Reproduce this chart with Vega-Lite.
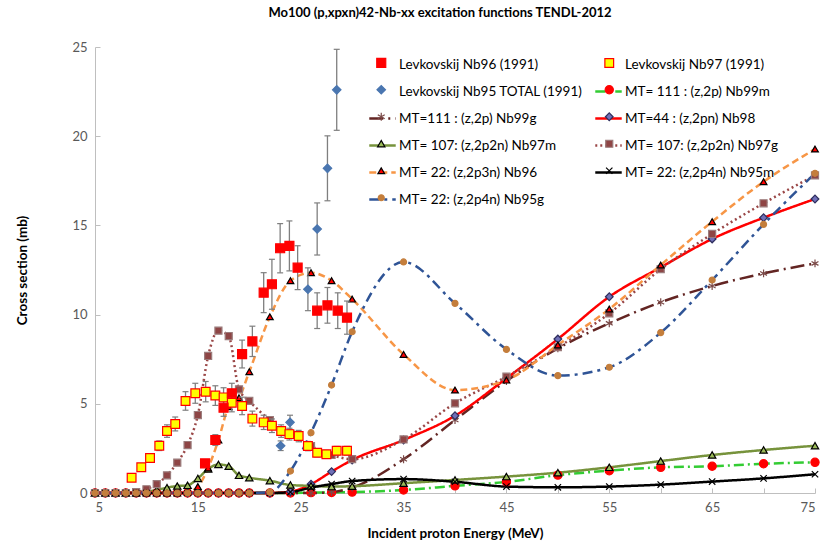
{
  "$schema": "https://vega.github.io/schema/vega-lite/v6.json",
  "width": 720,
  "height": 446,
  "autosize": {"type": "none"},
  "padding": {"left": 95, "top": 47, "right": 7, "bottom": 52},
  "background": "white",
  "title": {"text": "Mo100 (p,xpxn)42-Nb-xx  excitation functions TENDL-2012", "font": "Lato", "fontSize": 13, "fontWeight": "bold", "color": "#000000", "frame": "group", "anchor": "middle", "dx": -15, "offset": 21},
  "datasets": {
    "names": [
      {"k": "n96", "name": "Levkovskij Nb96 (1991)", "mk": "Levkovskij Nb96 (1991)\u200b"},
      {"k": "n97", "name": "Levkovskij Nb97 (1991)", "mk": "Levkovskij Nb97 (1991)\u200b"},
      {"k": "n95", "name": "Levkovskij Nb95 TOTAL (1991)", "mk": "Levkovskij Nb95 TOTAL (1991)\u200b"},
      {"k": "Nb99m", "name": "MT= 111 : (z,2p) Nb99m", "mk": "MT= 111 : (z,2p) Nb99m\u200b"},
      {"k": "Nb99g", "name": "MT=111 : (z,2p) Nb99g", "mk": "MT=111 : (z,2p) Nb99g\u200b"},
      {"k": "Nb98", "name": "MT=44 : (z,2pn) Nb98", "mk": "MT=44 : (z,2pn) Nb98\u200b"},
      {"k": "Nb97m", "name": "MT= 107: (z,2p2n) Nb97m", "mk": "MT= 107: (z,2p2n) Nb97m\u200b"},
      {"k": "Nb97g", "name": "MT= 107: (z,2p2n) Nb97g", "mk": "MT= 107: (z,2p2n) Nb97g\u200b"},
      {"k": "Nb96", "name": "MT= 22: (z,2p3n) Nb96", "mk": "MT= 22: (z,2p3n) Nb96\u200b"},
      {"k": "Nb95m", "name": "MT= 22: (z,2p4n) Nb95m", "mk": "MT= 22: (z,2p4n) Nb95m\u200b"},
      {"k": "Nb95g", "name": "MT= 22: (z,2p4n) Nb95g", "mk": "MT= 22: (z,2p4n) Nb95g\u200b"}
    ],
    "tendl": [
      {"e": 5, "Nb99m": 0, "Nb99g": 0, "Nb98": 0, "Nb97m": 0, "Nb97g": 0, "Nb96": 0, "Nb95m": 0, "Nb95g": 0},
      {"e": 6, "Nb99m": 0, "Nb99g": 0, "Nb98": 0, "Nb97m": 0, "Nb97g": 0, "Nb96": 0, "Nb95m": 0, "Nb95g": 0},
      {"e": 7, "Nb99m": 0, "Nb99g": 0, "Nb98": 0, "Nb97m": 0, "Nb97g": 0, "Nb96": 0, "Nb95m": 0, "Nb95g": 0},
      {"e": 8, "Nb99m": 0, "Nb99g": 0, "Nb98": 0, "Nb97m": 0, "Nb97g": 0, "Nb96": 0, "Nb95m": 0, "Nb95g": 0},
      {"e": 9, "Nb99m": 0, "Nb99g": 0, "Nb98": 0, "Nb97m": 0.02, "Nb97g": 0.05, "Nb96": 0, "Nb95m": 0, "Nb95g": 0},
      {"e": 10, "Nb99m": 0, "Nb99g": 0, "Nb98": 0, "Nb97m": 0.08, "Nb97g": 0.21, "Nb96": 0, "Nb95m": 0, "Nb95g": 0},
      {"e": 11, "Nb99m": 0, "Nb99g": 0, "Nb98": 0, "Nb97m": 0.17, "Nb97g": 0.5, "Nb96": 0, "Nb95m": 0, "Nb95g": 0},
      {"e": 12, "Nb99m": 0, "Nb99g": 0, "Nb98": 0, "Nb97m": 0.3, "Nb97g": 0.99, "Nb96": 0, "Nb95m": 0, "Nb95g": 0},
      {"e": 13, "Nb99m": 0, "Nb99g": 0, "Nb98": 0, "Nb97m": 0.39, "Nb97g": 1.7, "Nb96": 0, "Nb95m": 0, "Nb95g": 0},
      {"e": 14, "Nb99m": 0, "Nb99g": 0, "Nb98": 0, "Nb97m": 0.43, "Nb97g": 2.69, "Nb96": 0.05, "Nb95m": 0, "Nb95g": 0},
      {"e": 15, "Nb99m": 0, "Nb99g": 0, "Nb98": 0, "Nb97m": 0.82, "Nb97g": 4.37, "Nb96": 0.36, "Nb95m": 0, "Nb95g": 0},
      {"e": 16, "Nb99m": 0, "Nb99g": 0, "Nb98": 0, "Nb97m": 1.35, "Nb97g": 7.68, "Nb96": 1.4, "Nb95m": 0, "Nb95g": 0},
      {"e": 17, "Nb99m": 0, "Nb99g": 0, "Nb98": 0, "Nb97m": 1.6, "Nb97g": 9.1, "Nb96": 2.97, "Nb95m": 0, "Nb95g": 0},
      {"e": 18, "Nb99m": 0, "Nb99g": 0, "Nb98": 0, "Nb97m": 1.5, "Nb97g": 8.8, "Nb96": 4.84, "Nb95m": 0, "Nb95g": 0},
      {"e": 19, "Nb99m": 0, "Nb99g": 0, "Nb98": 0, "Nb97m": 0.99, "Nb97g": 5.81, "Nb96": 5.34, "Nb95m": 0, "Nb95g": 0},
      {"e": 20, "Nb99m": 0, "Nb99g": 0, "Nb98": 0, "Nb97m": 0.86, "Nb97g": 5.16, "Nb96": 6.8, "Nb95m": 0, "Nb95g": 0},
      {"e": 22, "Nb99m": 0, "Nb99g": 0, "Nb98": 0, "Nb97m": 0.69, "Nb97g": 4.09, "Nb96": 9.88, "Nb95m": 0, "Nb95g": 0.05},
      {"e": 24, "Nb99m": 0, "Nb99g": 0, "Nb98": 0.08, "Nb97m": 0.45, "Nb97g": 3.29, "Nb96": 11.9, "Nb95m": 0.05, "Nb95g": 1.23},
      {"e": 26, "Nb99m": 0.02, "Nb99g": 0, "Nb98": 0.5, "Nb97m": 0.4, "Nb97g": 2.63, "Nb96": 12.35, "Nb95m": 0.3, "Nb95g": 3.38},
      {"e": 28, "Nb99m": 0.03, "Nb99g": 0.05, "Nb98": 1.2, "Nb97m": 0.36, "Nb97g": 2.13, "Nb96": 11.9, "Nb95m": 0.5, "Nb95g": 6.05},
      {"e": 30, "Nb99m": 0.05, "Nb99g": 0.3, "Nb98": 1.85, "Nb97m": 0.38, "Nb97g": 1.9, "Nb96": 10.87, "Nb95m": 0.67, "Nb95g": 9.04},
      {"e": 35, "Nb99m": 0.17, "Nb99g": 1.89, "Nb98": 2.97, "Nb97m": 0.55, "Nb97g": 3.0, "Nb96": 7.77, "Nb95m": 0.78, "Nb95g": 12.95},
      {"e": 40, "Nb99m": 0.4, "Nb99g": 4.09, "Nb98": 4.33, "Nb97m": 0.73, "Nb97g": 5.03, "Nb96": 5.77, "Nb95m": 0.63, "Nb95g": 10.63},
      {"e": 45, "Nb99m": 0.62, "Nb99g": 6.28, "Nb98": 6.43, "Nb97m": 0.92, "Nb97g": 6.52, "Nb96": 6.33, "Nb95m": 0.36, "Nb95g": 8.05},
      {"e": 50, "Nb99m": 1.0, "Nb99g": 8.11, "Nb98": 8.63, "Nb97m": 1.14, "Nb97g": 8.17, "Nb96": 8.3, "Nb95m": 0.32, "Nb95g": 6.58},
      {"e": 55, "Nb99m": 1.25, "Nb99g": 9.51, "Nb98": 11.0, "Nb97m": 1.44, "Nb97g": 10.07, "Nb96": 10.31, "Nb95m": 0.36, "Nb95g": 7.05},
      {"e": 60, "Nb99m": 1.44, "Nb99g": 10.69, "Nb98": 12.65, "Nb97m": 1.79, "Nb97g": 12.55, "Nb96": 12.78, "Nb95m": 0.47, "Nb95g": 8.99},
      {"e": 65, "Nb99m": 1.5, "Nb99g": 11.6, "Nb98": 14.24, "Nb97m": 2.13, "Nb97g": 14.52, "Nb96": 15.21, "Nb95m": 0.64, "Nb95g": 11.94},
      {"e": 70, "Nb99m": 1.64, "Nb99g": 12.31, "Nb98": 15.43, "Nb97m": 2.41, "Nb97g": 16.24, "Nb96": 17.45, "Nb95m": 0.82, "Nb95g": 15.06},
      {"e": 75, "Nb99m": 1.72, "Nb99g": 12.87, "Nb98": 16.48, "Nb97m": 2.65, "Nb97g": 17.8, "Nb96": 19.28, "Nb95m": 1.05, "Nb95g": 17.92}
    ],
    "exp": [
      {"k": "n97", "e": 8.56, "v": 0.86, "lo": 0.77, "hi": 0.95},
      {"k": "n97", "e": 9.5, "v": 1.44, "lo": 1.3, "hi": 1.58},
      {"k": "n97", "e": 10.35, "v": 1.96, "lo": 1.76, "hi": 2.16},
      {"k": "n97", "e": 11.25, "v": 2.65, "lo": 2.38, "hi": 2.92},
      {"k": "n97", "e": 12.0, "v": 3.47, "lo": 3.12, "hi": 3.82},
      {"k": "n97", "e": 12.8, "v": 3.87, "lo": 3.48, "hi": 4.26},
      {"k": "n97", "e": 13.8, "v": 5.16, "lo": 4.64, "hi": 5.68},
      {"k": "n97", "e": 14.75, "v": 5.59, "lo": 5.03, "hi": 6.15},
      {"k": "n97", "e": 15.76, "v": 5.68, "lo": 5.11, "hi": 6.25},
      {"k": "n97", "e": 16.7, "v": 5.46, "lo": 4.91, "hi": 6.01},
      {"k": "n97", "e": 17.5, "v": 5.36, "lo": 4.82, "hi": 5.9},
      {"k": "n97", "e": 18.3, "v": 5.06, "lo": 4.55, "hi": 5.57},
      {"k": "n97", "e": 19.3, "v": 4.88, "lo": 4.39, "hi": 5.37},
      {"k": "n97", "e": 20.3, "v": 4.17, "lo": 3.75, "hi": 4.59},
      {"k": "n97", "e": 21.4, "v": 3.96, "lo": 3.56, "hi": 4.36},
      {"k": "n97", "e": 22.2, "v": 3.77, "lo": 3.39, "hi": 4.15},
      {"k": "n97", "e": 23.1, "v": 3.47, "lo": 3.12, "hi": 3.82},
      {"k": "n97", "e": 23.9, "v": 3.3, "lo": 2.97, "hi": 3.63},
      {"k": "n97", "e": 24.8, "v": 3.19, "lo": 2.87, "hi": 3.51},
      {"k": "n97", "e": 25.7, "v": 2.63, "lo": 2.37, "hi": 2.89},
      {"k": "n97", "e": 26.6, "v": 2.26, "lo": 2.03, "hi": 2.49},
      {"k": "n97", "e": 27.5, "v": 2.17, "lo": 1.95, "hi": 2.39},
      {"k": "n97", "e": 28.5, "v": 2.37, "lo": 2.13, "hi": 2.61},
      {"k": "n97", "e": 29.5, "v": 2.37, "lo": 2.13, "hi": 2.61},
      {"k": "n96", "e": 15.7, "v": 1.66, "lo": 1.49, "hi": 1.83},
      {"k": "n96", "e": 16.7, "v": 2.97, "lo": 2.67, "hi": 3.27},
      {"k": "n96", "e": 17.5, "v": 4.78, "lo": 4.3, "hi": 5.26},
      {"k": "n96", "e": 18.3, "v": 5.59, "lo": 5.03, "hi": 6.15},
      {"k": "n96", "e": 19.3, "v": 7.79, "lo": 7.01, "hi": 8.57},
      {"k": "n96", "e": 20.3, "v": 8.5, "lo": 7.65, "hi": 9.35},
      {"k": "n96", "e": 21.4, "v": 11.23, "lo": 10.11, "hi": 12.35},
      {"k": "n96", "e": 22.2, "v": 11.7, "lo": 10.3, "hi": 13.1},
      {"k": "n96", "e": 23.0, "v": 13.72, "lo": 12.34, "hi": 15.1},
      {"k": "n96", "e": 23.9, "v": 13.85, "lo": 12.45, "hi": 15.25},
      {"k": "n96", "e": 24.7, "v": 12.63, "lo": 11.4, "hi": 13.86},
      {"k": "n96", "e": 26.6, "v": 10.22, "lo": 9.22, "hi": 11.22},
      {"k": "n96", "e": 27.6, "v": 10.52, "lo": 9.52, "hi": 11.52},
      {"k": "n96", "e": 28.6, "v": 10.22, "lo": 9.22, "hi": 11.22},
      {"k": "n96", "e": 29.5, "v": 9.83, "lo": 8.9, "hi": 10.76},
      {"k": "n95", "e": 23.05, "v": 2.65, "lo": 2.38, "hi": 2.92},
      {"k": "n95", "e": 23.96, "v": 3.96, "lo": 3.56, "hi": 4.36},
      {"k": "n95", "e": 25.7, "v": 11.42, "lo": 10.22, "hi": 12.62},
      {"k": "n95", "e": 26.6, "v": 14.8, "lo": 13.34, "hi": 16.26},
      {"k": "n95", "e": 27.6, "v": 18.2, "lo": 16.38, "hi": 20.02},
      {"k": "n95", "e": 28.5, "v": 22.6, "lo": 20.33, "hi": 24.87}
    ]
  },
  "layer": [
    {
      "data": {"name": "tendl"},
      "transform": [
        {"fold": ["Nb99m", "Nb99g", "Nb98", "Nb97m", "Nb97g", "Nb96", "Nb95m", "Nb95g"], "as": ["k", "v"]},
        {"lookup": "k", "from": {"data": {"name": "names"}, "key": "k", "fields": ["name", "mk"]}}
      ],
      "mark": {"type": "line", "interpolate": "monotone", "strokeWidth": 2.5},
      "encoding": {
        "x": {"field": "e", "type": "quantitative", "scale": {"domain": [5, 75], "nice": false, "zero": false},
          "axis": {"title": "Incident proton Energy (MeV)", "values": [5, 10, 15, 20, 25, 30, 35, 40, 45, 50, 55, 60, 65, 70, 75], "labelExpr": "datum.value % 10 == 5 ? datum.label : ''", "tickSize": -5, "labelPadding": 13, "titleX": 360, "titleY": 40, "titleBaseline": "middle", "titleAlign": "center"}},
        "y": {"field": "v", "type": "quantitative", "scale": {"domain": [0, 25], "nice": false},
          "axis": {"title": "Cross section (mb)", "values": [0, 5, 10, 15, 20, 25], "tickSize": -5, "labelPadding": 13, "titleX": -73, "titleY": 223, "titleBaseline": "middle", "titleAlign": "center", "titleAngle": -90}},
        "color": {"field": "name", "type": "nominal",
          "scale": {"domain": ["Levkovskij Nb96 (1991)", "Levkovskij Nb97 (1991)", "Levkovskij Nb95 TOTAL (1991)", "MT= 111 : (z,2p) Nb99m", "MT=111 : (z,2p) Nb99g", "MT=44 : (z,2pn) Nb98", "MT= 107: (z,2p2n) Nb97m", "MT= 107: (z,2p2n) Nb97g", "MT= 22: (z,2p3n) Nb96", "MT= 22: (z,2p4n) Nb95m", "MT= 22: (z,2p4n) Nb95g"],
            "range": ["transparent", "transparent", "transparent", "#33CC33", "#632523", "#FF0000", "#77933C", "#9A4747", "#F79646", "#000000", "#2F5496"]},
          "legend": {"title": null, "direction": "horizontal", "symbolType": "stroke", "symbolSize": 700, "symbolStrokeWidth": 2.5, "labelOffset": 2, "legendX": 273, "legendY": 3, "rowPadding": 6, "columnPadding": 7}},
        "strokeDash": {"field": "name", "type": "nominal",
          "scale": {"domain": ["Levkovskij Nb96 (1991)", "Levkovskij Nb97 (1991)", "Levkovskij Nb95 TOTAL (1991)", "MT= 111 : (z,2p) Nb99m", "MT=111 : (z,2p) Nb99g", "MT=44 : (z,2pn) Nb98", "MT= 107: (z,2p2n) Nb97m", "MT= 107: (z,2p2n) Nb97g", "MT= 22: (z,2p3n) Nb96", "MT= 22: (z,2p4n) Nb95m", "MT= 22: (z,2p4n) Nb95g"],
            "range": [[1, 0], [1, 0], [1, 0], [10, 4, 2, 4], [14, 5, 2, 5], [1, 0], [1, 0], [2, 3], [7, 4], [1, 0], [10, 5, 3, 5]]},
          "legend": {"title": null, "direction": "horizontal", "symbolType": "stroke", "symbolSize": 700, "symbolStrokeWidth": 2.5, "labelOffset": 2, "legendX": 273, "legendY": 3, "rowPadding": 6, "columnPadding": 7}}
      }
    },
    {
      "data": {"name": "tendl"},
      "transform": [
        {"fold": ["Nb99m", "Nb99g", "Nb98", "Nb97m", "Nb97g", "Nb96", "Nb95m", "Nb95g"], "as": ["k", "v"]},
        {"lookup": "k", "from": {"data": {"name": "names"}, "key": "k", "fields": ["name", "mk"]}}
      ],
      "mark": {"type": "point", "opacity": 1, "strokeWidth": 1.2},
      "encoding": {
        "x": {"field": "e", "type": "quantitative", "scale": {"domain": [5, 75], "nice": false, "zero": false}},
        "y": {"field": "v", "type": "quantitative", "scale": {"domain": [0, 25], "nice": false}},
        "shape": {"field": "mk", "type": "nominal",
          "scale": {"domain": ["Levkovskij Nb96 (1991)\u200b", "Levkovskij Nb97 (1991)\u200b", "Levkovskij Nb95 TOTAL (1991)\u200b", "MT= 111 : (z,2p) Nb99m\u200b", "MT=111 : (z,2p) Nb99g\u200b", "MT=44 : (z,2pn) Nb98\u200b", "MT= 107: (z,2p2n) Nb97m\u200b", "MT= 107: (z,2p2n) Nb97g\u200b", "MT= 22: (z,2p3n) Nb96\u200b", "MT= 22: (z,2p4n) Nb95m\u200b", "MT= 22: (z,2p4n) Nb95g\u200b"],
            "range": ["square", "square", "diamond", "circle", "M0,-1L0,1M-0.87,-0.5L0.87,0.5M-0.87,0.5L0.87,-0.5", "diamond", "triangle-up", "square", "triangle-up", "M-1,-1L1,1M-1,1L1,-1", "circle"]},
          "legend": {"title": null, "direction": "horizontal", "labelExpr": "''", "legendX": 279.5, "legendY": 9, "labelOffset": 0, "rowPadding": 12, "columnPadding": 213, "symbolStrokeWidth": 1.2}},
        "fill": {"field": "mk", "type": "nominal",
          "scale": {"domain": ["Levkovskij Nb96 (1991)\u200b", "Levkovskij Nb97 (1991)\u200b", "Levkovskij Nb95 TOTAL (1991)\u200b", "MT= 111 : (z,2p) Nb99m\u200b", "MT=111 : (z,2p) Nb99g\u200b", "MT=44 : (z,2pn) Nb98\u200b", "MT= 107: (z,2p2n) Nb97m\u200b", "MT= 107: (z,2p2n) Nb97g\u200b", "MT= 22: (z,2p3n) Nb96\u200b", "MT= 22: (z,2p4n) Nb95m\u200b", "MT= 22: (z,2p4n) Nb95g\u200b"],
            "range": ["#FF0000", "#FFFF00", "#4A76B0", "#FF0000", "transparent", "#7070B8", "#9BBB59", "#8E4545", "#FF0000", "transparent", "#C47E3C"]},
          "legend": {"title": null, "direction": "horizontal", "labelExpr": "''", "legendX": 279.5, "legendY": 9, "labelOffset": 0, "rowPadding": 12, "columnPadding": 213, "symbolStrokeWidth": 1.2}},
        "stroke": {"field": "mk", "type": "nominal",
          "scale": {"domain": ["Levkovskij Nb96 (1991)\u200b", "Levkovskij Nb97 (1991)\u200b", "Levkovskij Nb95 TOTAL (1991)\u200b", "MT= 111 : (z,2p) Nb99m\u200b", "MT=111 : (z,2p) Nb99g\u200b", "MT=44 : (z,2pn) Nb98\u200b", "MT= 107: (z,2p2n) Nb97m\u200b", "MT= 107: (z,2p2n) Nb97g\u200b", "MT= 22: (z,2p3n) Nb96\u200b", "MT= 22: (z,2p4n) Nb95m\u200b", "MT= 22: (z,2p4n) Nb95g\u200b"],
            "range": ["#FF0000", "#FF0000", "#4A76B0", "#FF0000", "#7B4A48", "#2E2E5E", "#000000", "#9A7B7B", "#000000", "#000000", "#C47E3C"]},
          "legend": {"title": null, "direction": "horizontal", "labelExpr": "''", "legendX": 279.5, "legendY": 9, "labelOffset": 0, "rowPadding": 12, "columnPadding": 213, "symbolStrokeWidth": 1.2}},
        "size": {"field": "mk", "type": "nominal",
          "scale": {"domain": ["Levkovskij Nb96 (1991)\u200b", "Levkovskij Nb97 (1991)\u200b", "Levkovskij Nb95 TOTAL (1991)\u200b", "MT= 111 : (z,2p) Nb99m\u200b", "MT=111 : (z,2p) Nb99g\u200b", "MT=44 : (z,2pn) Nb98\u200b", "MT= 107: (z,2p2n) Nb97m\u200b", "MT= 107: (z,2p2n) Nb97g\u200b", "MT= 22: (z,2p3n) Nb96\u200b", "MT= 22: (z,2p4n) Nb95m\u200b", "MT= 22: (z,2p4n) Nb95g\u200b"],
            "range": [81, 36, 150, 36, 100, 40, 60, 64, 60, 70, 60]},
          "legend": {"title": null, "direction": "horizontal", "labelExpr": "''", "legendX": 279.5, "legendY": 9, "labelOffset": 0, "rowPadding": 12, "columnPadding": 213, "symbolStrokeWidth": 1.2}}
      }
    },
    {
      "data": {"name": "exp"},
      "mark": {"type": "rule", "color": "#7F7F7F", "strokeWidth": 1.3},
      "encoding": {
        "x": {"field": "e", "type": "quantitative", "scale": {"domain": [5, 75], "nice": false, "zero": false}},
        "y": {"field": "lo", "type": "quantitative", "scale": {"domain": [0, 25], "nice": false}},
        "y2": {"field": "hi"}
      }
    },
    {
      "data": {"name": "exp"},
      "mark": {"type": "tick", "orient": "horizontal", "color": "#7F7F7F", "size": 6, "thickness": 1.2, "opacity": 1},
      "encoding": {
        "x": {"field": "e", "type": "quantitative", "scale": {"domain": [5, 75], "nice": false, "zero": false}},
        "y": {"field": "lo", "type": "quantitative", "scale": {"domain": [0, 25], "nice": false}}
      }
    },
    {
      "data": {"name": "exp"},
      "mark": {"type": "tick", "orient": "horizontal", "color": "#7F7F7F", "size": 6, "thickness": 1.2, "opacity": 1},
      "encoding": {
        "x": {"field": "e", "type": "quantitative", "scale": {"domain": [5, 75], "nice": false, "zero": false}},
        "y": {"field": "hi", "type": "quantitative", "scale": {"domain": [0, 25], "nice": false}}
      }
    },
    {
      "data": {"name": "exp"},
      "transform": [
        {"lookup": "k", "from": {"data": {"name": "names"}, "key": "k", "fields": ["name", "mk"]}}
      ],
      "mark": {"type": "point", "opacity": 1, "strokeWidth": 1.2},
      "encoding": {
        "x": {"field": "e", "type": "quantitative", "scale": {"domain": [5, 75], "nice": false, "zero": false}},
        "y": {"field": "v", "type": "quantitative", "scale": {"domain": [0, 25], "nice": false}},
        "shape": {"field": "mk", "type": "nominal",
          "scale": {"domain": ["Levkovskij Nb96 (1991)\u200b", "Levkovskij Nb97 (1991)\u200b", "Levkovskij Nb95 TOTAL (1991)\u200b", "MT= 111 : (z,2p) Nb99m\u200b", "MT=111 : (z,2p) Nb99g\u200b", "MT=44 : (z,2pn) Nb98\u200b", "MT= 107: (z,2p2n) Nb97m\u200b", "MT= 107: (z,2p2n) Nb97g\u200b", "MT= 22: (z,2p3n) Nb96\u200b", "MT= 22: (z,2p4n) Nb95m\u200b", "MT= 22: (z,2p4n) Nb95g\u200b"],
            "range": ["square", "square", "diamond", "circle", "M0,-1L0,1M-0.87,-0.5L0.87,0.5M-0.87,0.5L0.87,-0.5", "diamond", "triangle-up", "square", "triangle-up", "M-1,-1L1,1M-1,1L1,-1", "circle"]},
          "legend": {"title": null, "direction": "horizontal", "labelExpr": "''", "legendX": 279.5, "legendY": 9, "labelOffset": 0, "rowPadding": 12, "columnPadding": 213, "symbolStrokeWidth": 1.2}},
        "fill": {"field": "mk", "type": "nominal",
          "scale": {"domain": ["Levkovskij Nb96 (1991)\u200b", "Levkovskij Nb97 (1991)\u200b", "Levkovskij Nb95 TOTAL (1991)\u200b", "MT= 111 : (z,2p) Nb99m\u200b", "MT=111 : (z,2p) Nb99g\u200b", "MT=44 : (z,2pn) Nb98\u200b", "MT= 107: (z,2p2n) Nb97m\u200b", "MT= 107: (z,2p2n) Nb97g\u200b", "MT= 22: (z,2p3n) Nb96\u200b", "MT= 22: (z,2p4n) Nb95m\u200b", "MT= 22: (z,2p4n) Nb95g\u200b"],
            "range": ["#FF0000", "#FFFF00", "#4A76B0", "#FF0000", "transparent", "#7070B8", "#9BBB59", "#8E4545", "#FF0000", "transparent", "#C47E3C"]},
          "legend": {"title": null, "direction": "horizontal", "labelExpr": "''", "legendX": 279.5, "legendY": 9, "labelOffset": 0, "rowPadding": 12, "columnPadding": 213, "symbolStrokeWidth": 1.2}},
        "stroke": {"field": "mk", "type": "nominal",
          "scale": {"domain": ["Levkovskij Nb96 (1991)\u200b", "Levkovskij Nb97 (1991)\u200b", "Levkovskij Nb95 TOTAL (1991)\u200b", "MT= 111 : (z,2p) Nb99m\u200b", "MT=111 : (z,2p) Nb99g\u200b", "MT=44 : (z,2pn) Nb98\u200b", "MT= 107: (z,2p2n) Nb97m\u200b", "MT= 107: (z,2p2n) Nb97g\u200b", "MT= 22: (z,2p3n) Nb96\u200b", "MT= 22: (z,2p4n) Nb95m\u200b", "MT= 22: (z,2p4n) Nb95g\u200b"],
            "range": ["#FF0000", "#FF0000", "#4A76B0", "#FF0000", "#7B4A48", "#2E2E5E", "#000000", "#9A7B7B", "#000000", "#000000", "#C47E3C"]},
          "legend": {"title": null, "direction": "horizontal", "labelExpr": "''", "legendX": 279.5, "legendY": 9, "labelOffset": 0, "rowPadding": 12, "columnPadding": 213, "symbolStrokeWidth": 1.2}},
        "size": {"field": "mk", "type": "nominal",
          "scale": {"domain": ["Levkovskij Nb96 (1991)\u200b", "Levkovskij Nb97 (1991)\u200b", "Levkovskij Nb95 TOTAL (1991)\u200b", "MT= 111 : (z,2p) Nb99m\u200b", "MT=111 : (z,2p) Nb99g\u200b", "MT=44 : (z,2pn) Nb98\u200b", "MT= 107: (z,2p2n) Nb97m\u200b", "MT= 107: (z,2p2n) Nb97g\u200b", "MT= 22: (z,2p3n) Nb96\u200b", "MT= 22: (z,2p4n) Nb95m\u200b", "MT= 22: (z,2p4n) Nb95g\u200b"],
            "range": [81, 36, 150, 36, 100, 40, 60, 64, 60, 70, 60]},
          "legend": {"title": null, "direction": "horizontal", "labelExpr": "''", "legendX": 279.5, "legendY": 9, "labelOffset": 0, "rowPadding": 12, "columnPadding": 213, "symbolStrokeWidth": 1.2}}
      }
    }
  ],
  "config": {
    "font": "Lato",
    "view": {"stroke": null},
    "axis": {"grid": false, "domainColor": "#BFBFBF", "domainWidth": 1, "tickColor": "#BFBFBF", "labelColor": "#595959", "labelFont": "Lato", "labelFontSize": 13, "titleFont": "Lato", "titleFontSize": 13.5, "titleFontWeight": "bold", "titleColor": "#000000"},
    "legend": {"orient": "none", "legendX": 275, "legendY": 9, "columns": 2, "labelFont": "Lato", "labelFontSize": 13.5, "labelColor": "#000000", "labelLimit": 400, "rowPadding": 12, "columnPadding": 12, "padding": 0, "symbolLimit": 0}
  }
}
